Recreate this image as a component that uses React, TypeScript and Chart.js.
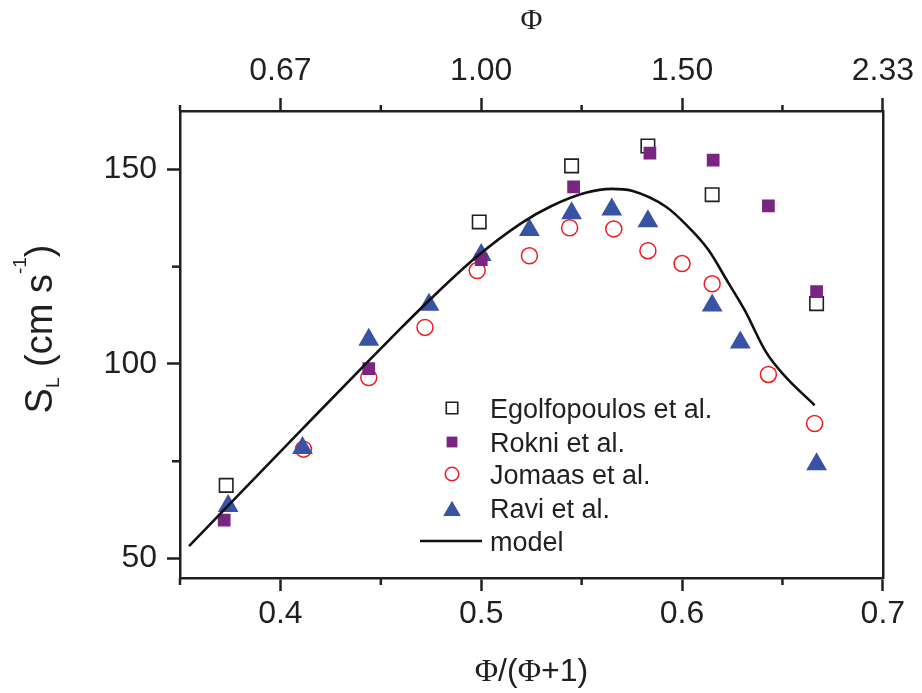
import React, { useEffect, useRef } from 'react';
import { Chart, registerables } from 'chart.js';
import { drawPoint } from 'chart.js/helpers';

Chart.register(...registerables);

// ---------- data ----------
const egolX = [0.373, 0.499, 0.545, 0.583, 0.615, 0.667];
const egolY = [68.8, 136.5, 150.9, 156.0, 143.5, 115.5];

const rokniX = [0.372, 0.444, 0.5, 0.546, 0.584, 0.6155, 0.643, 0.667];
const rokniY = [59.9, 98.8, 126.8, 145.5, 154.2, 152.4, 140.6, 118.6];

const jomaasX = [0.4115, 0.444, 0.472, 0.498, 0.524, 0.544, 0.566, 0.583, 0.6, 0.615, 0.643, 0.666];
const jomaasY = [78.1, 96.5, 109.4, 124.0, 127.8, 135.0, 134.7, 129.1, 125.8, 120.6, 97.3, 84.7];

const raviX = [0.374, 0.411, 0.444, 0.474, 0.5, 0.524, 0.545, 0.565, 0.583, 0.615, 0.629, 0.667];
const raviY = [63.5, 78.4, 106.2, 115.2, 128.0, 134.4, 138.7, 139.7, 136.7, 115.0, 105.5, 74.2];

const modelX = [0.3545, 0.38, 0.41, 0.4443, 0.461, 0.474, 0.4974, 0.52, 0.535, 0.552, 0.565, 0.575, 0.592, 0.602, 0.613, 0.623, 0.631, 0.642, 0.651, 0.666];
const modelY = [53.2, 66.8, 82.8, 101.0, 109.7, 116.3, 127.4, 136.2, 140.6, 144.0, 145.0, 144.5, 140.4, 135.8, 129.4, 120.9, 114.0, 102.9, 97.0, 89.4];

const seriesLabels = ['Egolfopoulos et al.', 'Rokni et al.', 'Jomaas et al.', 'Ravi et al.', 'model'];

const xTickValues = [0.35, 0.4, 0.45, 0.5, 0.55, 0.6, 0.65, 0.7];
const xMajorTicks = [0.4, 0.5, 0.6, 0.7];
const xTickLabels = ['0.4', '0.5', '0.6', '0.7'];
const topTickLabels = ['0.67', '1.00', '1.50', '2.33'];
const yTickValues = [50, 75, 100, 125, 150];
const yMajorTicks = [50, 100, 150];
const yTickLabels = ['50', '100', '150'];

// ---------- styles ----------
const AXIS = '#231f20';
const SANS = '"Liberation Sans", Arial, Helvetica, sans-serif';
const SERIF = '"Liberation Serif", "Times New Roman", serif';

const idx = (v: number, arr: number[]) => arr.findIndex((a) => Math.abs(a - v) < 1e-9);
const pts = (xs: number[], ys: number[]) => xs.map((x, i) => ({ x, y: ys[i] }));

const decorPlugin = {
  id: 'decor',
  afterDraw(chart: any) {
    const ctx: CanvasRenderingContext2D = chart.ctx;
    const { left, top, bottom } = chart.chartArea;
    ctx.save();
    // minor ticks
    ctx.strokeStyle = AXIS;
    ctx.lineWidth = 2.5;
    const xs = chart.scales.x;
    const x2 = chart.scales.x2;
    const ys = chart.scales.y;
    xs.ticks.forEach((t: any) => {
      if (idx(t.value, xMajorTicks) < 0) {
        const p = xs.getPixelForValue(t.value);
        ctx.beginPath(); ctx.moveTo(p, bottom); ctx.lineTo(p, bottom + 7); ctx.stroke();
      }
    });
    x2.ticks.forEach((t: any) => {
      if (idx(t.value, xMajorTicks) < 0) {
        const p = x2.getPixelForValue(t.value);
        ctx.beginPath(); ctx.moveTo(p, top); ctx.lineTo(p, top - 6); ctx.stroke();
      }
    });
    ys.ticks.forEach((t: any) => {
      if (idx(t.value, yMajorTicks) < 0) {
        const p = ys.getPixelForValue(t.value);
        ctx.beginPath(); ctx.moveTo(left, p); ctx.lineTo(left - 8, p); ctx.stroke();
      }
    });

    ctx.fillStyle = AXIS;
    // bottom axis title: Φ/(Φ+1)
    const segs = [
      { t: 'Φ', f: `32px ${SERIF}` },
      { t: '/(', f: `32px ${SANS}` },
      { t: 'Φ', f: `32px ${SERIF}` },
      { t: '+1)', f: `32px ${SANS}` },
    ];
    let total = 0;
    segs.forEach((s) => { ctx.font = s.f; total += ctx.measureText(s.t).width; });
    let cx = (chart.chartArea.left + chart.chartArea.right) / 2 - total / 2;
    ctx.textBaseline = 'alphabetic';
    ctx.textAlign = 'left';
    segs.forEach((s) => { ctx.font = s.f; ctx.fillText(s.t, cx, 681); cx += ctx.measureText(s.t).width; });

    // y axis title: S_L (cm s^-1)
    ctx.save();
    ctx.translate(52, 329);
    ctx.rotate(-Math.PI / 2);
    const ysegs = [
      { t: 'S', f: `38px ${SANS}`, dy: 0 },
      { t: 'L', f: `19px ${SANS}`, dy: 7 },
      { t: ' (cm s', f: `38px ${SANS}`, dy: 0 },
      { t: '-1', f: `19px ${SANS}`, dy: -26 },
      { t: ')', f: `38px ${SANS}`, dy: 0 },
    ];
    let tw = 0;
    ysegs.forEach((s) => { ctx.font = s.f; tw += ctx.measureText(s.t).width; });
    let px = -tw / 2;
    ysegs.forEach((s) => { ctx.font = s.f; ctx.fillText(s.t, px, s.dy); px += ctx.measureText(s.t).width; });
    ctx.restore();

    // legend
    const rowY = [408, 442, 474, 508, 541];
    const markX = 452;
    const textX = 490;
    ctx.font = `27px ${SANS}`;
    seriesLabels.forEach((lab, i) => {
      const ds = chart.data.datasets[i];
      const y = rowY[i];
      if (ds.showLine) {
        ctx.strokeStyle = ds.borderColor;
        ctx.lineWidth = ds.borderWidth;
        ctx.beginPath(); ctx.moveTo(420, y); ctx.lineTo(482, y); ctx.stroke();
      } else {
        ctx.fillStyle = ds.pointBackgroundColor;
        ctx.strokeStyle = ds.pointBorderColor;
        ctx.lineWidth = ds.pointBorderWidth;
        const yy = ds.pointStyle === 'triangle' ? y + 3 : y;
        drawPoint(ctx, { pointStyle: ds.pointStyle, radius: ds.pointRadius * 0.85, borderWidth: ds.pointBorderWidth, rotation: 0 } as any, markX, yy);
      }
      ctx.fillStyle = AXIS;
      ctx.font = `27px ${SANS}`;
      ctx.fillText(lab, textX, y + 10);
    });
    ctx.restore();
  },
};

export default function App() {
  const ref = useRef<HTMLCanvasElement | null>(null);
  useEffect(() => {
    document.body.style.margin = '0';
    const canvas = ref.current;
    if (!canvas) return;
    const tickColor = (c: any, majors: number[]) =>
      c.tick && idx(c.tick.value, majors) >= 0 ? AXIS : 'rgba(0,0,0,0)';
    const chart = new Chart(canvas, {
      type: 'scatter',
      data: {
        datasets: [
          {
            label: seriesLabels[0], data: pts(egolX, egolY), pointStyle: 'rect', pointRadius: 9.5,
            pointBorderWidth: 1.6, pointBorderColor: AXIS, pointBackgroundColor: 'rgba(0,0,0,0)', order: 4,
          },
          {
            label: seriesLabels[1], data: pts(rokniX, rokniY), pointStyle: 'rect', pointRadius: 9,
            pointBorderWidth: 0, pointBorderColor: '#7a2582', pointBackgroundColor: '#7a2582', order: 1,
          },
          {
            label: seriesLabels[2], data: pts(jomaasX, jomaasY), pointStyle: 'circle', pointRadius: 8,
            pointBorderWidth: 1.5, pointBorderColor: '#ed1c24', pointBackgroundColor: 'rgba(0,0,0,0)', order: 3,
          },
          {
            label: seriesLabels[3], data: pts(raviX, raviY), pointStyle: 'triangle', pointRadius: 12,
            pointBorderWidth: 0, pointBorderColor: '#3953a4', pointBackgroundColor: '#3953a4', order: 2,
          },
          {
            label: seriesLabels[4], data: pts(modelX, modelY), showLine: true, pointRadius: 0,
            borderColor: '#111111', borderWidth: 2.6, cubicInterpolationMode: 'monotone', order: 0,
          } as any,
        ],
      },
      options: {
        animation: false,
        responsive: true,
        maintainAspectRatio: false,
        events: [],
        layout: { padding: 0 },
        plugins: { legend: { display: false }, tooltip: { enabled: false } },
        scales: {
          x: {
            type: 'linear', position: 'bottom', min: 0.35, max: 0.7,
            afterBuildTicks: (s: any) => { s.ticks = xTickValues.map((v) => ({ value: v })); },
            afterFit: (s: any) => { s.height = 115; },
            ticks: {
              autoSkip: false, maxRotation: 0, padding: 4, color: AXIS, font: { family: SANS, size: 32 },
              callback: (v: any) => { const i = idx(Number(v), xMajorTicks); return i >= 0 ? xTickLabels[i] : ''; },
            },
            grid: {
              drawOnChartArea: false, drawTicks: true, tickLength: 13, tickWidth: 2.5,
              tickColor: (c: any) => tickColor(c, xMajorTicks),
            },
            border: { display: true, color: AXIS, width: 2.5 },
          },
          x2: {
            type: 'linear', position: 'top', min: 0.35, max: 0.7,
            afterBuildTicks: (s: any) => { s.ticks = xTickValues.map((v) => ({ value: v })); },
            afterFit: (s: any) => { s.height = 111; },
            ticks: {
              autoSkip: false, maxRotation: 0, padding: 8, color: AXIS, font: { family: SANS, size: 32 },
              callback: (v: any) => { const i = idx(Number(v), xMajorTicks); return i >= 0 ? topTickLabels[i] : ''; },
            },
            grid: {
              drawOnChartArea: false, drawTicks: true, tickLength: 13, tickWidth: 2.5,
              tickColor: (c: any) => tickColor(c, xMajorTicks),
            },
            border: { display: true, color: AXIS, width: 2.5 },
            title: { display: true, text: 'Φ', color: AXIS, font: { family: SERIF, size: 30 }, padding: { top: 3, bottom: 0 } },
          },
          y: {
            type: 'linear', position: 'left', min: 45, max: 165,
            afterBuildTicks: (s: any) => { s.ticks = yTickValues.map((v) => ({ value: v })); },
            afterFit: (s: any) => { s.width = 180; },
            ticks: {
              autoSkip: false, padding: 10, color: AXIS, font: { family: SANS, size: 32 },
              callback: (v: any) => { const i = idx(Number(v), yMajorTicks); return i >= 0 ? yTickLabels[i] : ''; },
            },
            grid: {
              drawOnChartArea: false, drawTicks: true, tickLength: 13, tickWidth: 2.5,
              tickColor: (c: any) => tickColor(c, yMajorTicks),
            },
            border: { display: true, color: AXIS, width: 2.5 },
          },
          y2: {
            type: 'linear', position: 'right', min: 45, max: 165,
            afterFit: (s: any) => { s.width = 37; },
            ticks: { display: false },
            grid: { drawOnChartArea: false, drawTicks: false },
            border: { display: true, color: AXIS, width: 2.5 },
          },
        },
      } as any,
      plugins: [decorPlugin],
    });
    return () => chart.destroy();
  }, []);
  return (
    <div style={{ position: 'relative', width: 922, height: 693 }}>
      <canvas ref={ref} />
    </div>
  );
}
